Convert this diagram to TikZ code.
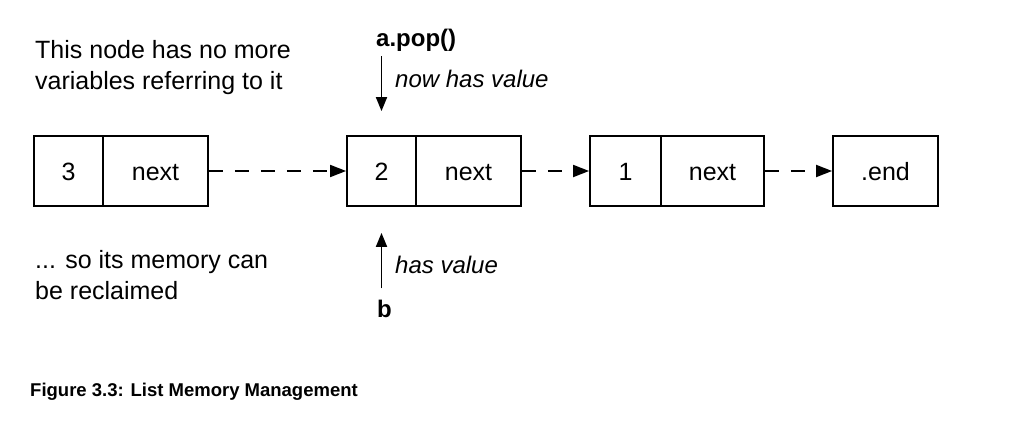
\documentclass[tikz,border=0pt]{standalone}
\usepackage{fontspec}
\setmainfont{Liberation Sans}
\usetikzlibrary{arrows.meta}
\begin{document}
\begin{tikzpicture}[x=1pt,y=-1pt,
  txt/.style={inner sep=0pt,anchor=base west,font=\fontsize{25}{30}\selectfont},
  itxt/.style={inner sep=0pt,anchor=base west,font=\fontsize{24}{29}\selectfont\itshape},
  btxt/.style={inner sep=0pt,anchor=base west,font=\fontsize{24}{29}\selectfont\bfseries},
  cell/.style={draw,line width=1.8pt,minimum height=70pt,inner sep=0pt,
     text height=18pt,text depth=0pt,font=\fontsize{25}{30}\selectfont},
  link/.style={line width=1.8pt,dash pattern=on 14pt off 12pt,
     -{Triangle[length=16pt,width=12pt]}},
  ptr/.style={line width=1.8pt,-{Triangle[length=14pt,width=11pt]}}]
\useasboundingbox (0,0) rectangle (1010,444);
% list cells
\node[cell,minimum width=69pt]  (b1v) at (68.5,171) {3};
\node[cell,minimum width=105pt] (b1n) at (155.5,171) {next};
\node[cell,minimum width=69pt]  (b2v) at (381.5,171) {2};
\node[cell,minimum width=105pt] (b2n) at (468.5,171) {next};
\node[cell,minimum width=71pt]  (b3v) at (625.5,171) {1};
\node[cell,minimum width=103pt] (b3n) at (712.5,171) {next};
\node[cell,minimum width=105pt] (b4)  at (885.5,171) {.end};
% links
\draw[link] (b1n.east) -- (b2v.west);
\draw[link] (b2n.east) -- (b3v.west);
\draw[link] (b3n.east) -- (b4.west);
% texts
\node[txt] (t1) at (35,59) {This node has no more};
\node[txt] (t2) at (35,90) {variables referring to it};
\node[txt] (t3) at (35,268) {... so its memory can};
\node[txt] (t4) at (35,299) {be reclaimed};
\node[btxt] (apop) at (376,47) {a.pop()};
\node[itxt] (nhv) at (395,88) {now has value};
\node[itxt] (hv) at (395,273) {has value};
\node[btxt] (bvar) at (377,317) {b};
\node[inner sep=0pt,anchor=base west,font=\fontsize{18.5}{22}\selectfont\bfseries] (cap) at (30,396) {Figure 3.3: List Memory Management};
% pointers
\draw[ptr,shorten <=4pt,shorten >=24pt] (b2v.north |- apop.south) -- (b2v.north);
\draw[ptr,shorten <=11pt,shorten >=26pt] (b2v.south |- bvar.north) -- (b2v.south);
\end{tikzpicture}
\end{document}
